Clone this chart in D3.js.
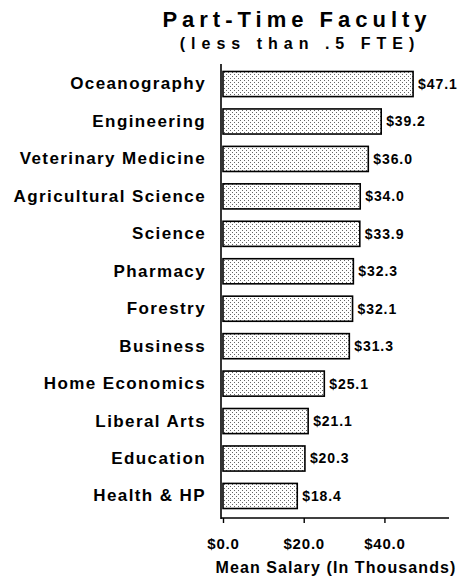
<!DOCTYPE html>
<html>
<head>
<meta charset="utf-8">
<script src="https://cdn.jsdelivr.net/npm/d3@7"></script>
<style>
  html, body { margin: 0; padding: 0; background: #fff; }
  svg { display: block; }
  text { font-family: "Liberation Sans", Arial, Helvetica, sans-serif; font-weight: bold; fill: #000; }
</style>
</head>
<body>
<div id="chart"></div>
<script>
// Mean salary of part-time faculty by college (thousands of dollars)
const colleges = [
  "Oceanography", "Engineering", "Veterinary Medicine", "Agricultural Science",
  "Science", "Pharmacy", "Forestry", "Business", "Home Economics",
  "Liberal Arts", "Education", "Health & HP"
];
const salaries = [47.1, 39.2, 36.0, 34.0, 33.9, 32.3, 32.1, 31.3, 25.1, 21.1, 20.3, 18.4];
const tickValues = [0, 20, 40];

const W = 463, H = 582;
const svg = d3.select("#chart").append("svg").attr("width", W).attr("height", H);

// stippled fill used by the bars
const defs = svg.append("defs");
const pat = defs.append("pattern")
  .attr("id", "stipple").attr("patternUnits", "userSpaceOnUse")
  .attr("width", 4).attr("height", 4);
pat.append("rect").attr("width", 4).attr("height", 4).attr("fill", "#fff");
pat.append("rect").attr("x", 0).attr("y", 0).attr("width", 1).attr("height", 1).attr("fill", "#666");
pat.append("rect").attr("x", 2).attr("y", 2).attr("width", 1).attr("height", 1).attr("fill", "#666");

const x = d3.scaleLinear().domain([0, 56]).range([223, 449]);
const y = d3.scaleBand().domain(colleges).range([64, 516]).paddingInner(0.33).paddingOuter(0.2);

// title
svg.append("text").attr("x", 297).attr("y", 27).attr("text-anchor", "middle")
  .style("font-size", "22px").style("letter-spacing", "5px")
  .text("Part-Time Faculty");
svg.append("text").attr("x", 300).attr("y", 49).attr("text-anchor", "middle")
  .style("font-size", "16px").style("letter-spacing", "6px")
  .text("(less than .5 FTE)");

// bars
svg.append("g").selectAll("rect").data(salaries).join("rect")
  .attr("x", x(0))
  .attr("y", (d, i) => y(colleges[i]))
  .attr("width", d => x(d) - x(0))
  .attr("height", y.bandwidth())
  .attr("fill", "url(#stipple)")
  .attr("stroke", "#000").attr("stroke-width", 1.6);

// value labels
svg.append("g").selectAll("text").data(salaries).join("text")
  .attr("x", d => x(d) + 5)
  .attr("y", (d, i) => y(colleges[i]) + y.bandwidth() / 2)
  .attr("dy", "0.35em")
  .style("font-size", "14px").style("letter-spacing", "0.9px")
  .text(d => "$" + d.toFixed(1));

// category axis
const yAxis = svg.append("g").attr("transform", `translate(${x(0) - 2},0)`)
  .call(d3.axisLeft(y).tickSize(0).tickPadding(15));
yAxis.select(".domain").attr("d", `M0,64V519`).attr("stroke", "#000").attr("stroke-width", 1.6);
yAxis.selectAll("text").style("font-size", "17px").style("letter-spacing", "1.4px")
  .style("font-family", "'Liberation Sans', Arial, sans-serif").style("font-weight", "bold");

// value axis
const xAxis = svg.append("g").attr("transform", "translate(0,518)")
  .call(d3.axisBottom(x).tickValues(tickValues).tickSize(5).tickPadding(15)
    .tickFormat(d => "$" + d3.format(".1f")(d)));
xAxis.select(".domain").attr("d", `M${x(0) - 2},0H${x(56)}`).attr("stroke", "#000").attr("stroke-width", 1.4);
xAxis.selectAll(".tick line").attr("stroke", "#000").attr("stroke-width", 1.4);
xAxis.selectAll("text").style("font-size", "15px").style("letter-spacing", "0.8px")
  .style("font-family", "'Liberation Sans', Arial, sans-serif").style("font-weight", "bold");

svg.append("text").attr("x", 336).attr("y", 573).attr("text-anchor", "middle")
  .style("font-size", "16px").style("letter-spacing", "1.1px")
  .text("Mean Salary (In Thousands)");
</script>
</body>
</html>
